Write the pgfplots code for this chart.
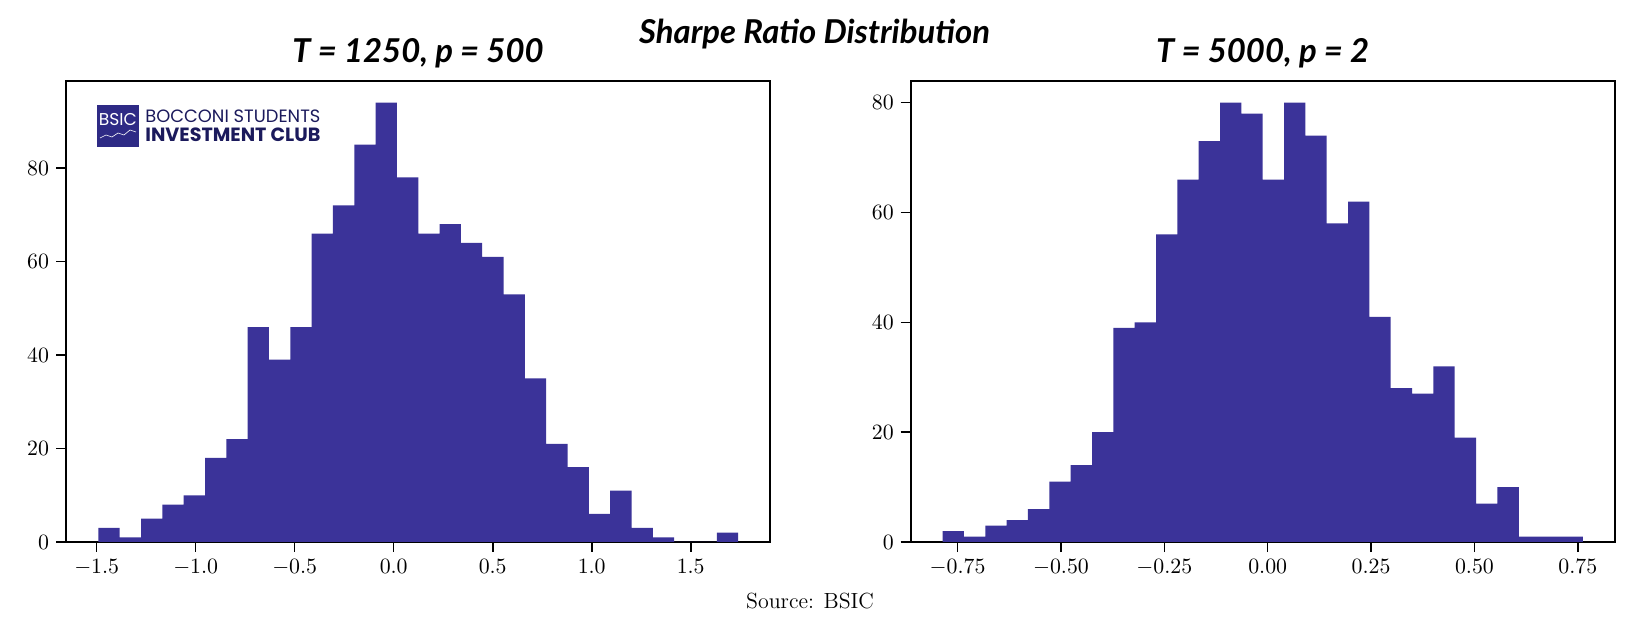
\documentclass[border=0pt]{standalone}
\usepackage{pgfplots}
\pgfplotsset{compat=1.18}
\usepackage{fontspec}
\newfontfamily\titlefont{Lato}
\newfontfamily\logofont{Poppins}
\definecolor{barc}{HTML}{3B3399}
\definecolor{navy}{HTML}{1B1A5C}
\definecolor{logosq}{HTML}{2E2A85}
\begin{document}
\begin{tikzpicture}
\useasboundingbox (0,0) rectangle (817.5bp,317.5bp);
\pgfplotsset{
 hist/.style={
  scale only axis, width=352bp, height=230.65bp,
  axis line style={line width=0.8bp},
  tick style={line width=0.8bp, black},
  major tick length=5bp,
  tick align=outside, xtick pos=left, ytick pos=left,
  ymin=0,
  ytick={0,20,40,60,80},
  tick label style={font=\fontsize{11}{13}\selectfont},
  title style={font=\titlefont\bfseries\itshape\fontsize{16.5}{18}\selectfont, at={(0.5,1)}, anchor=center, yshift=8bp},
 }
}
\begin{axis}[hist, at={(33bp,46.5bp)}, anchor=south west,
  xmin=-1.655, xmax=1.9005, ymax=98.7,
  xtick={-1.5,-1,-0.5,0,0.5,1,1.5},
  xticklabel style={/pgf/number format/.cd, fixed, fixed zerofill, precision=1},
  title={T = 1250, p = 500}]
\addplot[ybar interval, fill=barc, draw=none] coordinates {
(-1.4915,3) (-1.3838,1) (-1.2761,5) (-1.1684,8) (-1.0607,10) (-0.9530,18)
(-0.8453,22) (-0.7376,46) (-0.6299,39) (-0.5222,46) (-0.4145,66) (-0.3068,72)
(-0.1991,85) (-0.0914,94) (0.0163,78) (0.1240,66) (0.2317,68) (0.3394,64)
(0.4471,61) (0.5548,53) (0.6625,35) (0.7702,21) (0.8779,16) (0.9856,6)
(1.0933,11) (1.2010,3) (1.3087,1) (1.4164,0) (1.5241,0) (1.6318,2) (1.7395,2)
};
\end{axis}
\begin{axis}[hist, at={(455.35bp,46.5bp)}, anchor=south west,
  xmin=-0.8634, xmax=0.8393, ymax=84,
  xtick={-0.75,-0.5,-0.25,0,0.25,0.5,0.75},
  xticklabel style={/pgf/number format/.cd, fixed, fixed zerofill, precision=2},
  title={T = 5000, p = 2}]
\addplot[ybar interval, fill=barc, draw=none] coordinates {
(-0.7862,2) (-0.7346,1) (-0.6830,3) (-0.6314,4) (-0.5798,6) (-0.5282,11)
(-0.4765,14) (-0.4249,20) (-0.3733,39) (-0.3217,40) (-0.2701,56) (-0.2185,66)
(-0.1669,73) (-0.1153,80) (-0.0637,78) (-0.0121,66) (0.0396,80) (0.0912,74)
(0.1428,58) (0.1944,62) (0.2460,41) (0.2976,28) (0.3492,27) (0.4008,32)
(0.4524,19) (0.5040,7) (0.5557,10) (0.6073,1) (0.6589,1) (0.7105,1) (0.7621,1)
};
\end{axis}
% main title and source
\node[font=\titlefont\bfseries\itshape\fontsize{16.5}{18}\selectfont, anchor=center] at (407.25bp,300.3bp) {Sharpe Ratio Distribution};
\node[font=\fontsize{11}{13}\selectfont, anchor=center] at (405bp,16.75bp) {Source: BSIC};
% logo
\fill[logosq] (48.35bp,244.15bp) rectangle (69.5bp,265bp);
\node[text=white, inner sep=0pt, anchor=center] at (58.9bp,257.5bp) {\resizebox{19bp}{!}{\logofont BSIC}};
\draw[white, line width=0.3bp] (50bp,248.5bp) -- (53bp,250bp) -- (56bp,249bp) -- (59bp,251bp) -- (62bp,250bp) -- (65bp,252.5bp) -- (68bp,251.5bp);
\node[text=navy, inner sep=0pt, anchor=west] at (72.5bp,259.25bp) {\resizebox{87.5bp}{!}{\logofont BOCCONI STUDENTS}};
\node[text=navy, inner sep=0pt, anchor=west] at (72.5bp,250bp) {\resizebox{87.5bp}{!}{\logofont\bfseries INVESTMENT CLUB}};
\end{tikzpicture}
\end{document}
